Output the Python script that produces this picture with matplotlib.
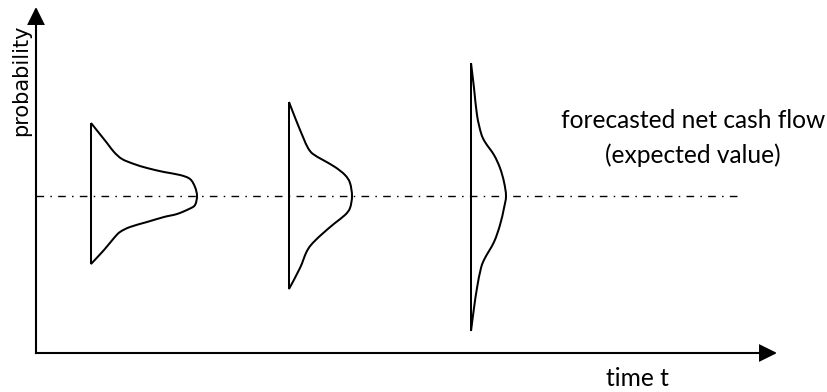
import matplotlib
matplotlib.use('Agg')
import matplotlib.pyplot as plt
import numpy as np
from matplotlib.patches import FancyArrowPatch, PathPatch
from matplotlib.path import Path

plt.rcParams['lines.scale_dashes'] = False

# ---- data (arbitrary units: time along x, net cash flow along y) ----
times = [55, 253, 435]
expected_value = 157

dist1_value = [230, 210, 201, 194, 189, 185, 181, 178, 174, 166, 157, 148, 144, 139, 136, 131, 126, 121, 115, 103, 89]
dist1_density = [0, 16, 23, 31, 43, 56, 73, 89, 99, 104, 106, 104, 98, 86, 73, 56, 39, 29, 23, 13, 0]

dist2_value = [251, 233, 216, 205, 199, 193, 186, 178, 170, 157, 145, 138, 130, 118, 108, 100, 85, 64]
dist2_density = [0, 7, 14, 19, 24, 34, 46, 56, 61, 63, 61, 56, 46, 32, 22, 17, 11, 0]

dist3_value = [290, 265, 238, 220, 211, 198, 185, 171, 157, 145, 128, 111, 95, 85, 65, 45, 22]
dist3_density = [0, 3, 6, 10, 14, 23, 29, 33, 35, 33, 29, 23, 14, 10, 6, 3, 0]

label_y = "probability"
label_x = "time t"
label_line1 = "forecasted net cash flow"
label_line2 = "(expected value)"


def smooth_closed_path(xs, ys):
    """Curve through the points (Catmull-Rom as cubic Bezier), closed by a straight edge."""
    pts = np.column_stack([xs, ys]).astype(float)
    n = len(pts)
    verts = [pts[0]]
    codes = [Path.MOVETO]
    for i in range(n - 1):
        p0 = pts[i - 1] if i > 0 else pts[i]
        p1 = pts[i]
        p2 = pts[i + 1]
        p3 = pts[i + 2] if i + 2 < n else pts[i + 1]
        c1 = p1 + (p2 - p0) / 6.0
        c2 = p2 - (p3 - p1) / 6.0
        verts += [c1, c2, p2]
        codes += [Path.CURVE4] * 3
    verts.append(pts[0])
    codes.append(Path.LINETO)
    return Path(verts, codes)


# ---- figure ----
fig = plt.figure(figsize=(8.28, 3.92), dpi=100)
ax = fig.add_axes([0, 0, 1, 1])
ax.set_xlim(-36, 792)
ax.set_ylim(-39, 353)
ax.axis('off')

# axes arrows
time_axis_end = 741
value_axis_end = 346
for start, end in [((0, 0), (time_axis_end, 0)), ((0, 0), (0, value_axis_end))]:
    arr = FancyArrowPatch(start, end, arrowstyle='-|>,head_length=10.5,head_width=5.2',
                          mutation_scale=1, lw=1.5, color='black',
                          shrinkA=0, shrinkB=0, capstyle='projecting', joinstyle='miter')
    ax.add_patch(arr)

# expected value line (dash-dot)
ax.plot([0, 707], [expected_value, expected_value], color='black', lw=1.0,
        dashes=(5.5, 4.5, 1.1, 4.5), solid_capstyle='butt', dash_capstyle='butt')

# distributions
for t, vals, dens in [(times[0], dist1_value, dist1_density),
                      (times[1], dist2_value, dist2_density),
                      (times[2], dist3_value, dist3_density)]:
    xs = t + np.asarray(dens, float)
    ys = np.asarray(vals, float)
    path = smooth_closed_path(xs, ys)
    ax.add_patch(PathPatch(path, facecolor='none', edgecolor='black', lw=1.45,
                           joinstyle='miter'))

# texts
font_right = 'Lato'
t1 = ax.text(657.5, 225, label_line1, ha='center', va='baseline', fontsize=18, family=font_right)
fig.canvas.draw()
w = t1.get_window_extent().width
size = 18 * 264 / w
t1.set_fontsize(size)
ax.text(657, 190.5, label_line2, ha='center', va='baseline', fontsize=size, family=font_right)
ax.text(601, -33, label_x, ha='center', va='baseline', fontsize=size, family=font_right)

ax.text(-14.5, 273, label_y, ha='center', va='center', rotation=90,
        rotation_mode='anchor', fontsize=15, family='DejaVu Sans')

fig.savefig('out.png', dpi=100)
